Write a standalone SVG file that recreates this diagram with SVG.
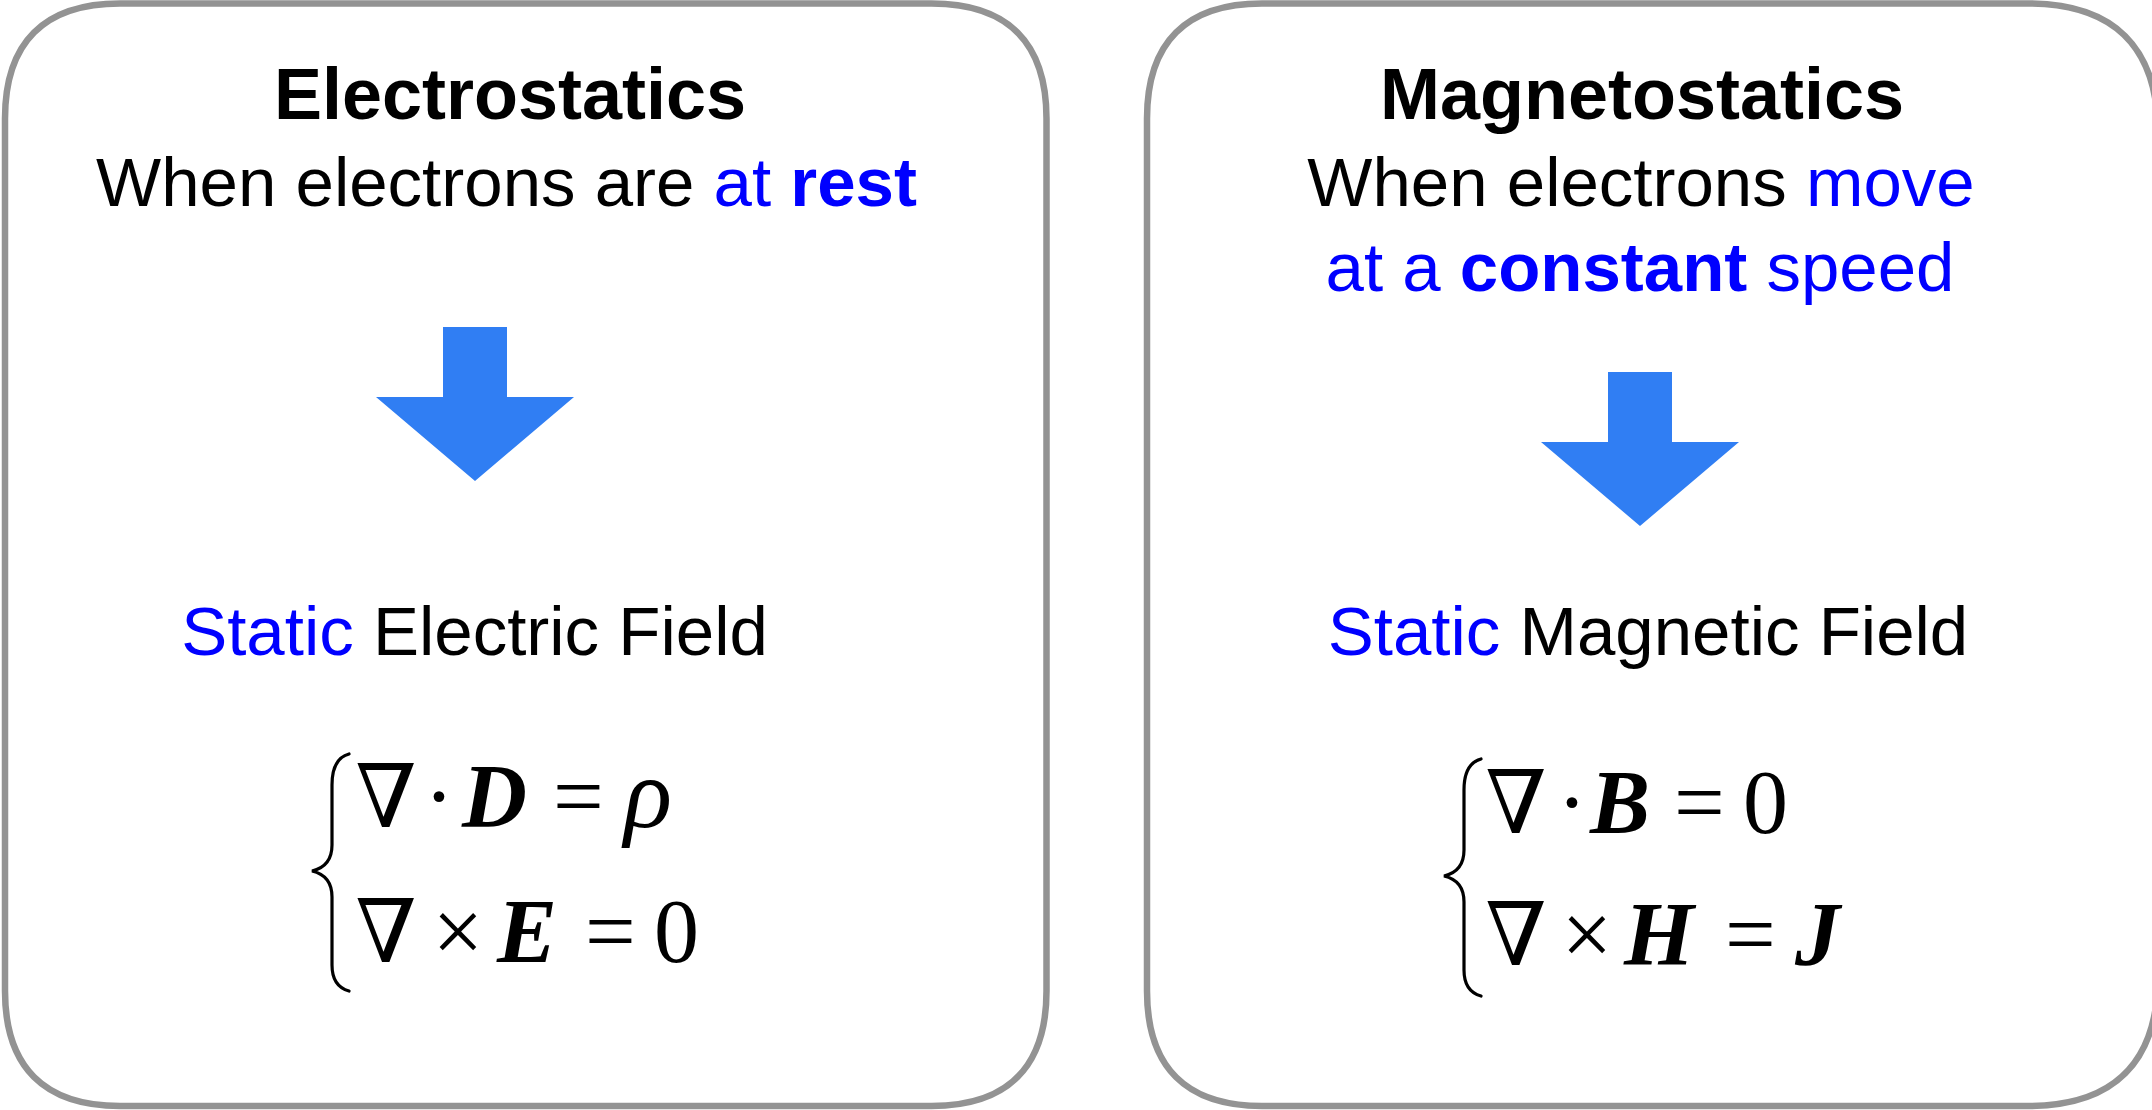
<svg xmlns="http://www.w3.org/2000/svg" width="2152" height="1110" viewBox="0 0 2152 1110">
  <style>
    .box { fill: #ffffff; stroke: #939393; stroke-width: 6.5; }
    .title { font-family: "Liberation Sans", Arial, sans-serif; font-weight: bold; font-size: 72px; fill: #000000; }
    .body { font-family: "Liberation Sans", Arial, sans-serif; font-size: 69px; fill: #000000; }
    .blue { fill: #0000ff; }
    .b { font-weight: bold; }
    .arrow { fill: #307ef3; }
    .m { font-family: "Liberation Serif", "Times New Roman", serif; font-size: 90px; fill: #000000; }
    .mbi { font-family: "Liberation Serif", "Times New Roman", serif; font-size: 90px; font-weight: bold; font-style: italic; fill: #000000; }
    .mi { font-family: "Liberation Serif", "Times New Roman", serif; font-size: 100px; font-style: italic; fill: #000000; }
    .nabla { font-family: "DejaVu Serif", "Liberation Serif", serif; font-size: 88px; fill: #000000; }
    .brace { fill: none; stroke: #000000; stroke-width: 3.2; stroke-linecap: round; }
  </style>
  <rect width="2152" height="1110" fill="#ffffff"/>

  <g id="electrostatics">
    <path class="box" d="M 120,3.5 H 931.5 C 1007.5,3.5 1046.5,42.5 1046.5,118.5 V 991 C 1046.5,1067 1007.5,1106 931.5,1106 H 120 C 44,1106 5,1067 5,991 V 118.5 C 5,42.5 44,3.5 120,3.5 Z"/>
    <text class="title" x="510" y="119" text-anchor="middle">Electrostatics</text>
    <text class="body" x="506.5" y="206" text-anchor="middle">When electrons are <tspan class="blue">at </tspan><tspan class="blue b">rest</tspan></text>
    <path class="arrow" d="M 443,327 H 507 V 397 H 574 L 475,481 L 376,397 H 443 Z"/>
    <text class="body" x="474.5" y="655" text-anchor="middle" font-size="70"><tspan class="blue">Static</tspan> Electric Field</text>
    <g id="eq-electro">
      <path class="brace" d="M349,754 C338,757 332,766 332,785 L332,845 C332,860 325,868 312,871 C325,874 332,882 332,897 L332,965 C332,980 338,988 349,991"/>
      <text class="nabla" x="386" y="827" text-anchor="middle">∇</text>
      <text class="m" x="439" y="827" text-anchor="middle">·</text>
      <text class="mbi" x="462" y="827">D</text>
      <text class="m" x="553" y="827">=</text>
      <text class="mi" x="624" y="827">ρ</text>
      <text class="nabla" x="386" y="962" text-anchor="middle">∇</text>
      <text class="m" x="458" y="962" text-anchor="middle">×</text>
      <text class="mbi" x="497" y="962">E</text>
      <text class="m" x="585" y="962">=</text>
      <text class="m" x="654" y="962">0</text>
    </g>
  </g>

  <g id="magnetostatics">
    <path class="box" d="M 1262,3.5 H 2028 C 2114,3.5 2158,47.5 2158,133.5 V 976 C 2158,1062 2114,1106 2028,1106 H 1262 C 1186,1106 1147,1067 1147,991 V 118.5 C 1147,42.5 1186,3.5 1262,3.5 Z"/>
    <text class="title" x="1642" y="119" text-anchor="middle">Magnetostatics</text>
    <text class="body" x="1641" y="206" text-anchor="middle">When electrons <tspan class="blue">move</tspan></text>
    <text class="body blue" x="1640" y="291" text-anchor="middle">at a <tspan class="b">constant</tspan> speed</text>
    <path class="arrow" d="M 1608,372 H 1672 V 442 H 1739 L 1640,526 L 1541,442 H 1608 Z"/>
    <text class="body" x="1648" y="655" text-anchor="middle" font-size="70"><tspan class="blue">Static</tspan> Magnetic Field</text>
    <g id="eq-magneto">
      <path class="brace" transform="translate(1132,5)" d="M349,754 C338,757 332,766 332,785 L332,845 C332,860 325,868 312,871 C325,874 332,882 332,897 L332,965 C332,980 338,988 349,991"/>
      <text class="nabla" x="1516" y="833" text-anchor="middle">∇</text>
      <text class="m" x="1572" y="833" text-anchor="middle">·</text>
      <text class="mbi" x="1590" y="833">B</text>
      <text class="m" x="1674" y="833">=</text>
      <text class="m" x="1743" y="833">0</text>
      <text class="nabla" x="1516" y="965" text-anchor="middle">∇</text>
      <text class="m" x="1587" y="965" text-anchor="middle">×</text>
      <text class="mbi" x="1624" y="965">H</text>
      <text class="m" x="1725" y="965">=</text>
      <text class="mbi" x="1795" y="965">J</text>
    </g>
  </g>
</svg>
